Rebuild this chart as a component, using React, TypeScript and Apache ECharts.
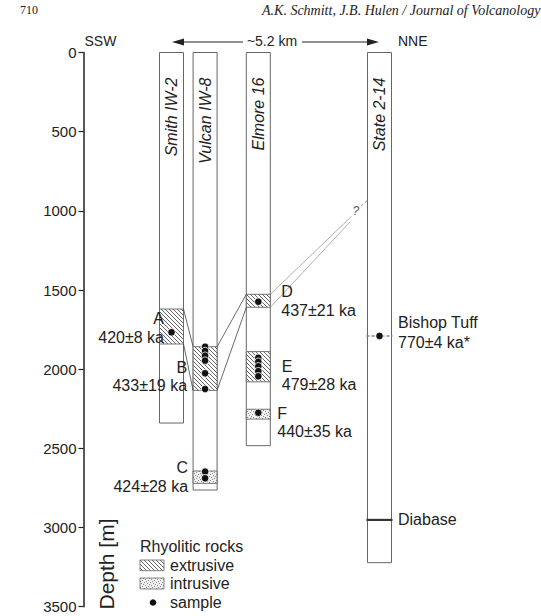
import React, { useEffect, useRef } from 'react';
import * as echarts from 'echarts';

// ---------------- data ----------------
const wellNames = ['Smith IW-2', 'Vulcan IW-8', 'Elmore 16', 'State 2-14'];
const wellDistanceKm = [0, 0.84, 2.17, 5.2];
const wellTotalDepthM = [2340, 2763, 2483, 3222];

const unitNames = ['A', 'B', 'C', 'D', 'E', 'F'];
const unitWell = [0, 1, 1, 2, 2, 2];
const unitType = ['extrusive', 'extrusive', 'intrusive', 'extrusive', 'extrusive', 'intrusive'];
const unitTopM = [1620, 1858, 2643, 1527, 1889, 2253];
const unitBottomM = [1841, 2134, 2721, 1609, 2080, 2315];
const unitAges = ['420±8 ka', '433±19 ka', '424±28 ka', '437±21 ka', '479±28 ka', '440±35 ka'];
const unitLabelDepthM = [1683, 1988, 2620, 1511, 1980, 2277];

const sampleWell = [0, 1, 1, 1, 1, 1, 1, 1, 1, 2, 2, 2, 2, 2, 2, 2, 3];
const sampleDepthM = [1767, 1858, 1885, 1915, 1946, 2026, 2125, 2647, 2689, 1574, 1928, 1953, 1982, 2013, 2045, 2275, 1790];

const correlationFrom = ['A', 'B'];
const correlationTo = ['B', 'D'];

const markerNames = ['Bishop Tuff', 'Diabase'];
const markerAges = ['770±4 ka*', ''];
const markerWell = [3, 3];
const markerDepthM = [1790, 2952];
const markerLabelDepthM = [1708, 2952];

const uncertainFromUnit = 'D';
const uncertainEndKm = [4.5, 4.46];
const uncertainEndDepthM = [1035, 1071];
const uncertainDashKm = [4.74, 4.89];
const uncertainDashDepthM = [968, 936];
const uncertainMarkKm = 4.61;
const uncertainMarkDepthM = 1000;

const depthMin = 0;
const depthMax = 3500;
const depthStep = 500;

// ---------------- layout / style ----------------
const HALF = 12;
const INK = '#222';
const EDGE = '#666';
const SANS = '"Liberation Sans", Arial, sans-serif';
const SERIF = '"Liberation Serif", "Times New Roman", serif';
const LINE_GAP = 18.7;
const labelNudgePx = [4.5, -6, -5, 11, 11.5, 7];

function makeHatch() {
  const c = document.createElement('canvas');
  c.width = 4;
  c.height = 4;
  const g = c.getContext('2d')!;
  g.fillStyle = '#ffffff';
  g.fillRect(0, 0, 4, 4);
  g.strokeStyle = '#555';
  g.lineWidth = 0.9;
  g.beginPath();
  for (const x0 of [-4, 0, 4]) {
    g.moveTo(x0, 0);
    g.lineTo(x0 + 4, 4);
  }
  g.stroke();
  return { image: c, repeat: 'repeat', imageWidth: 4, imageHeight: 4 };
}

function makeStipple() {
  const c = document.createElement('canvas');
  c.width = 6;
  c.height = 6;
  const g = c.getContext('2d')!;
  g.fillStyle = '#f0f0f0';
  g.fillRect(0, 0, 6, 6);
  g.fillStyle = '#8a8a8a';
  const pts = [[0, 0], [3, 1], [1, 3], [4, 4], [5, 2], [2, 5]];
  pts.forEach(([x, y]) => g.fillRect(x, y, 1, 1));
  return { image: c, repeat: 'repeat', imageWidth: 6, imageHeight: 6 };
}

function txt(text: string, x: number, y: number, font: string, align = 'left', extra: any = {}) {
  return {
    type: 'text',
    x,
    y,
    ...extra,
    style: {
      text,
      font,
      fill: INK,
      align,
      textAlign: align,
      verticalAlign: 'middle',
      textVerticalAlign: 'middle',
    },
  };
}

export default function App() {
  const ref = useRef<HTMLDivElement>(null);

  useEffect(() => {
    if (!ref.current) return;
    const chart = echarts.init(ref.current, null, { renderer: 'svg' });
    const hatch = makeHatch();
    const stipple = makeStipple();
    const unitIndex = (n: string) => unitNames.indexOf(n);

    const wellData = wellNames.map((_, i) => [wellDistanceKm[i], 0, wellTotalDepthM[i]]);
    const unitData = unitNames.map((_, i) => [
      wellDistanceKm[unitWell[i]],
      unitTopM[i],
      unitBottomM[i],
      unitType[i] === 'extrusive' ? 0 : 1,
    ]);
    const corrData = correlationFrom.map((f, k) => {
      const a = unitIndex(f);
      const b = unitIndex(correlationTo[k]);
      return [wellDistanceKm[unitWell[a]], unitTopM[a], unitBottomM[a], wellDistanceKm[unitWell[b]], unitTopM[b], unitBottomM[b]];
    });
    const ud = unitIndex(uncertainFromUnit);
    const uncertainData = [[
      wellDistanceKm[unitWell[ud]], unitTopM[ud], unitBottomM[ud],
      uncertainEndKm[0], uncertainEndDepthM[0], uncertainEndKm[1], uncertainEndDepthM[1],
      uncertainDashKm[0], uncertainDashDepthM[0], uncertainDashKm[1], uncertainDashDepthM[1],
      uncertainMarkKm, uncertainMarkDepthM,
    ]];
    const markerData = markerNames.map((_, i) => [wellDistanceKm[markerWell[i]], markerDepthM[i], i]);
    const sampleData = sampleWell.map((w, i) => [wellDistanceKm[w], sampleDepthM[i]]);
    const unitLabelData = unitNames.map((_, i) => [wellDistanceKm[unitWell[i]], unitLabelDepthM[i], i]);
    const markerLabelData = markerNames.map((_, i) => [wellDistanceKm[markerWell[i]], markerLabelDepthM[i], i]);

    const option: any = {
      animation: false,
      backgroundColor: '#ffffff',
      grid: { left: 83.5, top: 52.5, width: 400, height: 554.2 },
      xAxis: { type: 'value', min: -2.2, max: 7.8, show: false },
      yAxis: {
        type: 'value',
        inverse: true,
        min: depthMin,
        max: depthMax,
        interval: depthStep,
        position: 'left',
        axisLine: { show: true, onZero: false, lineStyle: { color: INK, width: 1.5 } },
        axisTick: { show: true, length: 5, lineStyle: { color: INK, width: 1.2 } },
        axisLabel: { color: INK, fontSize: 15, fontFamily: SANS, margin: 7, formatter: (v: number) => String(v) },
        splitLine: { show: false },
      },
      series: [
        {
          type: 'custom',
          name: 'wells',
          data: wellData,
          renderItem: (params: any, api: any) => {
            const i = params.dataIndex;
            const p0 = api.coord([api.value(0), api.value(1)]);
            const p1 = api.coord([api.value(0), api.value(2)]);
            return {
              type: 'group',
              children: [
                {
                  type: 'rect',
                  shape: { x: p0[0] - HALF, y: p0[1], width: HALF * 2, height: p1[1] - p0[1] },
                  style: { fill: '#fff', stroke: EDGE, lineWidth: 1 },
                },
                txt(wellNames[i], p0[0], p0[1] + 25, 'italic 16px ' + SANS, 'right', { rotation: Math.PI / 2 }),
              ],
            };
          },
        },
        {
          type: 'custom',
          name: 'units',
          data: unitData,
          renderItem: (params: any, api: any) => {
            const p0 = api.coord([api.value(0), api.value(1)]);
            const p1 = api.coord([api.value(0), api.value(2)]);
            return {
              type: 'rect',
              shape: { x: p0[0] - HALF, y: p0[1], width: HALF * 2, height: p1[1] - p0[1] },
              style: { fill: api.value(3) === 0 ? hatch : stipple, stroke: EDGE, lineWidth: 0.9 },
            };
          },
        },
        {
          type: 'custom',
          name: 'correlations',
          data: corrData,
          renderItem: (params: any, api: any) => {
            const a0 = api.coord([api.value(0), api.value(1)]);
            const a1 = api.coord([api.value(0), api.value(2)]);
            const b0 = api.coord([api.value(3), api.value(4)]);
            const b1 = api.coord([api.value(3), api.value(5)]);
            const st = { stroke: '#444', lineWidth: 0.8 };
            return {
              type: 'group',
              children: [
                { type: 'line', shape: { x1: a0[0] + HALF, y1: a0[1], x2: b0[0] - HALF, y2: b0[1] }, style: st },
                { type: 'line', shape: { x1: a1[0] + HALF, y1: a1[1], x2: b1[0] - HALF, y2: b1[1] }, style: st },
              ],
            };
          },
        },
        {
          type: 'custom',
          name: 'uncertain',
          data: uncertainData,
          renderItem: (params: any, api: any) => {
            const s0 = api.coord([api.value(0), api.value(1)]);
            const s1 = api.coord([api.value(0), api.value(2)]);
            const e0 = api.coord([api.value(3), api.value(4)]);
            const e1 = api.coord([api.value(5), api.value(6)]);
            const d0 = api.coord([api.value(7), api.value(8)]);
            const d1 = api.coord([api.value(9), api.value(10)]);
            const q = api.coord([api.value(11), api.value(12)]);
            const st = { stroke: '#9a9a9a', lineWidth: 0.8 };
            return {
              type: 'group',
              children: [
                { type: 'line', shape: { x1: s0[0] + HALF, y1: s0[1], x2: e0[0], y2: e0[1] }, style: st },
                { type: 'line', shape: { x1: s1[0] + HALF, y1: s1[1], x2: e1[0], y2: e1[1] }, style: st },
                { type: 'line', shape: { x1: d0[0], y1: d0[1], x2: d1[0], y2: d1[1] }, style: { stroke: '#888', lineWidth: 0.8, lineDash: [3, 2] } },
                { type: 'text', x: q[0], y: q[1], style: { text: '?', font: 'italic 12px ' + SANS, fill: '#555', align: 'center', textAlign: 'center', verticalAlign: 'middle', textVerticalAlign: 'middle' } },
              ],
            };
          },
        },
        {
          type: 'custom',
          name: 'markers',
          data: markerData,
          renderItem: (params: any, api: any) => {
            const p = api.coord([api.value(0), api.value(1)]);
            const isTuff = api.value(2) === 0;
            return {
              type: 'line',
              shape: { x1: p[0] - HALF - 1, y1: p[1], x2: p[0] + HALF + 1, y2: p[1] },
              style: isTuff
                ? { stroke: '#888', lineWidth: 1.6, lineDash: [3, 2] }
                : { stroke: '#333', lineWidth: 2.2 },
            };
          },
        },
        {
          type: 'scatter',
          name: 'sample',
          data: sampleData,
          symbol: 'circle',
          symbolSize: 7.5,
          itemStyle: { color: '#111', borderColor: '#fff', borderWidth: 0.8, opacity: 1 },
        },
        {
          type: 'custom',
          name: 'unitLabels',
          data: unitLabelData,
          renderItem: (params: any, api: any) => {
            const i = params.dataIndex;
            const p = api.coord([api.value(0), api.value(1)]);
            const left = unitWell[i] < 2;
            const x = left ? p[0] - HALF + labelNudgePx[i] : p[0] + HALF + labelNudgePx[i];
            const align = left ? 'right' : 'left';
            return {
              type: 'group',
              children: [
                txt(unitNames[i], x, p[1], '16px ' + SANS, align),
                txt(unitAges[i], x, p[1] + LINE_GAP, '16px ' + SANS, align),
              ],
            };
          },
        },
        {
          type: 'custom',
          name: 'markerLabels',
          data: markerLabelData,
          renderItem: (params: any, api: any) => {
            const i = params.dataIndex;
            const p = api.coord([api.value(0), api.value(1)]);
            const x = p[0] + HALF + 6.5;
            const children: any[] = [txt(markerNames[i], x, p[1], '16px ' + SANS, 'left')];
            if (markerAges[i]) children.push(txt(markerAges[i], x, p[1] + LINE_GAP + 1, '16px ' + SANS, 'left'));
            return { type: 'group', children };
          },
        },
      ],
      graphic: [
        txt('710', 20, 10, '12px ' + SERIF, 'left'),
        txt('A.K. Schmitt, J.B. Hulen / Journal of Volcanology', 262, 10, 'italic 14px ' + SERIF, 'left'),
        txt('SSW', 84.5, 41, '14px ' + SANS, 'left'),
        txt('NNE', 398, 41, '14px ' + SANS, 'left'),
        txt('~5.2 km', 272, 41, '14px ' + SANS, 'center'),
        { type: 'line', shape: { x1: 180, y1: 42, x2: 243, y2: 42 }, style: { stroke: INK, lineWidth: 1.2 } },
        { type: 'line', shape: { x1: 302, y1: 42, x2: 371, y2: 42 }, style: { stroke: INK, lineWidth: 1.2 } },
        { type: 'polygon', shape: { points: [[172, 42], [184, 38.5], [184, 45.5]] }, style: { fill: INK } },
        { type: 'polygon', shape: { points: [[379, 42], [367, 38.5], [367, 45.5]] }, style: { fill: INK } },
        txt('Depth [m]', 106, 564, '21px ' + SANS, 'center', { rotation: Math.PI / 2 }),
        txt('Rhyolitic rocks', 140, 546, '16px ' + SANS, 'left'),
        { type: 'rect', shape: { x: 140, y: 560, width: 24, height: 10.7 }, style: { fill: hatch, stroke: EDGE, lineWidth: 0.8 } },
        txt('extrusive', 170, 565.5, '16px ' + SANS, 'left'),
        { type: 'rect', shape: { x: 140, y: 578, width: 24, height: 11 }, style: { fill: stipple, stroke: EDGE, lineWidth: 0.8 } },
        txt('intrusive', 170, 583.5, '16px ' + SANS, 'left'),
        { type: 'circle', shape: { cx: 153, cy: 602.5, r: 3.3 }, style: { fill: '#111' } },
        txt('sample', 170, 602, '16px ' + SANS, 'left'),
      ],
    };

    chart.setOption(option);
    return () => chart.dispose();
  }, []);

  return (
    <div
      ref={ref}
      style={{ position: 'fixed', left: 0, top: 0, width: 541, height: 616, background: '#fff' }}
    />
  );
}
